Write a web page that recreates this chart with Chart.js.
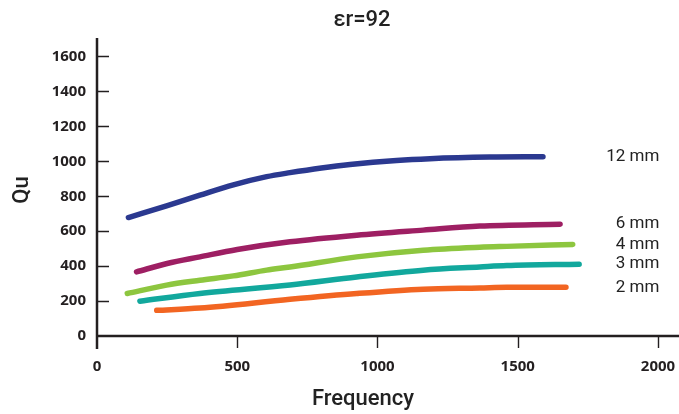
<!DOCTYPE html>
<html>
<head>
<meta charset="utf-8">
<script src="https://cdn.jsdelivr.net/npm/chart.js@4"></script>
<style>
    html, body { margin: 0; padding: 0; background: #fff; }
    #wrap { width: 679px; height: 414px; }
</style>
</head>
<body>
<div id="wrap"><canvas id="QuChart"></canvas></div>
<script>
// values
const SERIES_NAMES = ['12 mm', '6 mm', '4 mm', '3 mm', '2 mm'];
const COLORS = ['#2b3990', '#9e1f63', '#8dc63f', '#12a89d', '#f26522'];

const freq12 = [112, 248, 367, 486, 605, 688, 800, 902, 1068, 1187, 1400, 1590];
const qu12   = [678, 745, 806, 865, 912, 935, 962, 982, 1005, 1015, 1024, 1026];

const freq6 = [141, 250, 367, 500, 688, 926, 1163, 1365, 1651];
const qu6   = [367, 415, 453, 495, 539, 577, 606, 629, 640];

const freq4 = [108, 248, 367, 486, 605, 688, 926, 1163, 1365, 1461, 1696];
const qu4   = [243, 291, 319, 344, 377, 395, 453, 491, 508, 513, 524];

const freq3 = [153, 367, 688, 926, 1163, 1365, 1461, 1719];
const qu3   = [199, 243, 292, 338, 377, 395, 403, 411];

const freq2 = [213, 367, 688, 926, 1163, 1365, 1461, 1672];
const qu2   = [147, 160, 210, 243, 268, 275, 279, 279];

const X_TICKS = [0, 500, 1000, 1500, 2000];
const Y_TICKS = [0, 200, 400, 600, 800, 1000, 1200, 1400, 1600];

const TITLE = 'εr=92';
const X_TITLE = 'Frequency';
const Y_TITLE = 'Qu';

const INK = '#231f20';

function toPoints(xs, ys){
    return xs.map((x, i) => ({x: x, y: ys[i]}));
}

const allFreq = [freq12, freq6, freq4, freq3, freq2];
const allQu = [qu12, qu6, qu4, qu3, qu2];

const datasets = SERIES_NAMES.map((name, i) => ({
    label: name,
    data: toPoints(allFreq[i], allQu[i]),
    borderColor: COLORS[i],
    borderWidth: 5.5,
    borderCapStyle: 'round',
    pointRadius: 0,
    cubicInterpolationMode: 'monotone',
    fill: false,
}));

// axis lines, inner/outer tick marks, titles and series labels
const decorPlugin = {
    id: 'decor',
    afterDraw(chart){
        const ctx = chart.ctx;
        const xs = chart.scales.x;
        const ys = chart.scales.y;
        const area = chart.chartArea;
        const y0 = ys.getPixelForValue(0);
        const x0 = xs.getPixelForValue(0);
        ctx.save();

        ctx.strokeStyle = INK;
        ctx.lineWidth = 2.5;
        ctx.beginPath();
        ctx.moveTo(x0, area.top - 1);
        ctx.lineTo(x0, y0 + 13);
        ctx.moveTo(x0, y0);
        ctx.lineTo(chart.width, y0);
        ctx.stroke();

        ctx.lineWidth = 1.4;
        ctx.beginPath();
        Y_TICKS.forEach(v => {
            if (v === 0) return;
            const p = Math.round(ys.getPixelForValue(v)) + 0.5;
            ctx.moveTo(x0, p);
            ctx.lineTo(x0 + 12, p);
        });
        X_TICKS.forEach(v => {
            if (v === 0) return;
            const p = Math.round(xs.getPixelForValue(v)) + 0.5;
            ctx.moveTo(p, y0);
            ctx.lineTo(p, y0 + 12);
        });
        ctx.stroke();

        ctx.fillStyle = '#222';
        ctx.textAlign = 'center';
        ctx.textBaseline = 'middle';
        ctx.font = '500 22px Roboto';
        ctx.fillText(TITLE, 362, 20);
        ctx.fillText(X_TITLE, 363, 399);

        ctx.save();
        ctx.translate(22, 190);
        ctx.rotate(-Math.PI / 2);
        ctx.font = '500 22px Roboto';
        ctx.fillText(Y_TITLE, 0, 0);
        ctx.restore();

        ctx.font = '17px Roboto';
        ctx.textAlign = 'right';
        const labelX = xs.getPixelForValue(2005);
        SERIES_NAMES.forEach((name, i) => {
            const qu = allQu[i];
            ctx.fillText(name, labelX, ys.getPixelForValue(qu[qu.length - 1]));
        });
        ctx.restore();
    }
};

window.onload = function(){
    let ctx = document.getElementById('QuChart').getContext('2d');
    window.QChart = new Chart(ctx, {
        type: 'line',
        data: { datasets: datasets },
        plugins: [decorPlugin],
        options: {
            responsive: true,
            maintainAspectRatio: false,
            animation: false,
            layout: {
                autoPadding: false,
                padding: { top: 39, right: 0, bottom: 37, left: 0 }
            },
            plugins: {
                legend: { display: false },
                title: { display: false },
                tooltip: { enabled: false }
            },
            scales: {
                x: {
                    type: 'linear',
                    min: 0,
                    max: 2075,
                    border: { display: false },
                    grid: { display: false, drawTicks: false },
                    afterBuildTicks: s => { s.ticks = X_TICKS.map(v => ({value: v})); },
                    afterFit: s => {
                        s.height = 41;
                        s.paddingLeft = 0;
                        s.paddingRight = 0;
                    },
                    ticks: {
                        padding: 22,
                        maxRotation: 0,
                        color: INK,
                        callback: v => String(v),
                        font: { family: 'Open Sans', size: 15, weight: 'bold' }
                    }
                },
                y: {
                    min: 0,
                    max: 1700,
                    border: { display: false },
                    grid: { display: false, drawTicks: false },
                    afterBuildTicks: s => { s.ticks = Y_TICKS.map(v => ({value: v})); },
                    afterFit: s => { s.width = 97; },
                    ticks: {
                        padding: 11,
                        color: INK,
                        callback: v => String(v),
                        font: { family: 'Open Sans', size: 15, weight: 'bold' }
                    }
                }
            }
        }
    });
};
</script>
</body>
</html>
